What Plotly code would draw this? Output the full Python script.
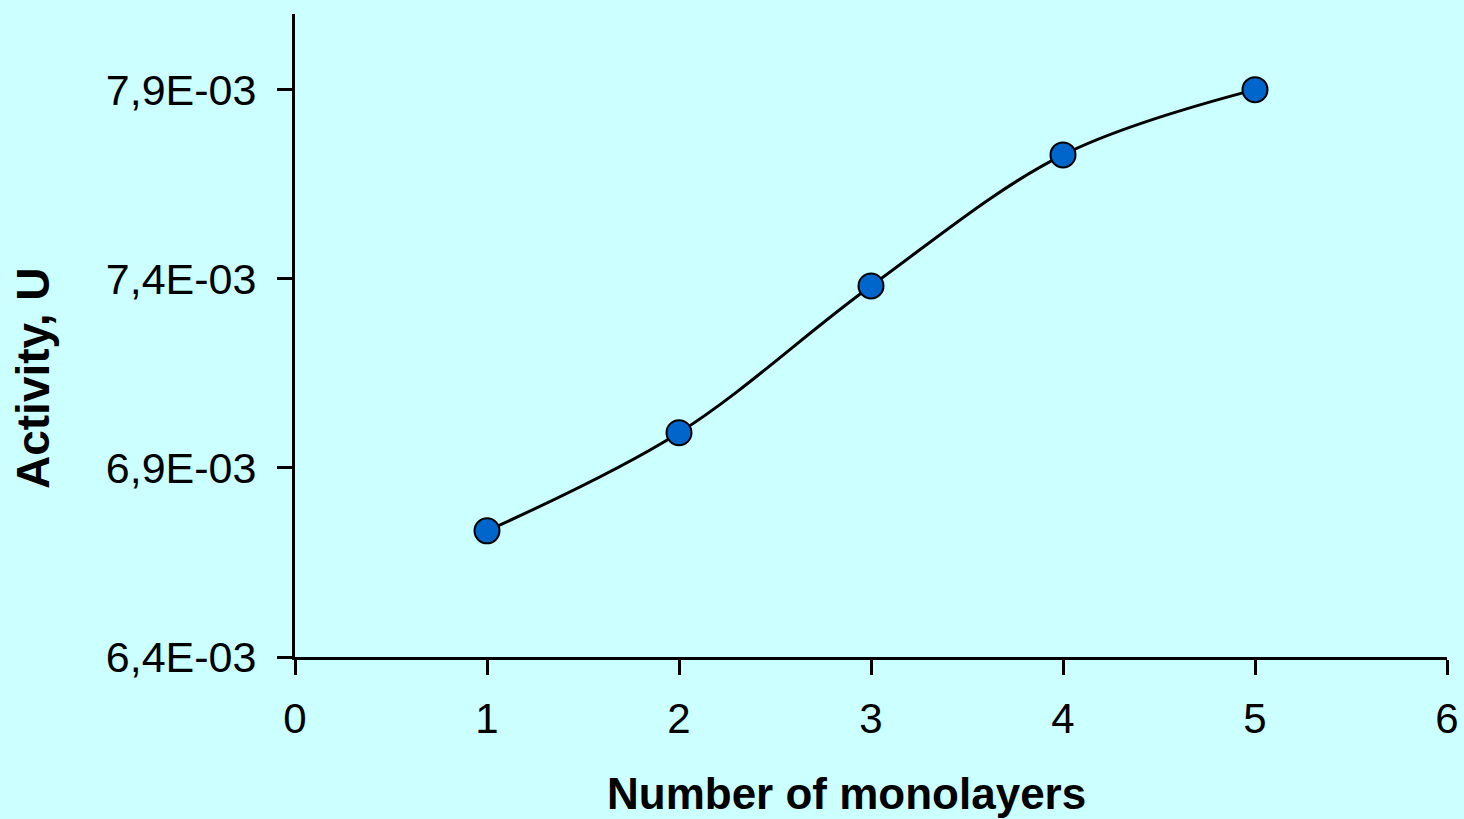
import plotly.graph_objects as go

monolayers = [1, 2, 3, 4, 5]
activity = [6.7335e-3, 6.993e-3, 7.381e-3, 7.7275e-3, 7.9e-3]
y_tick_vals = [6.4e-3, 6.9e-3, 7.4e-3, 7.9e-3]
y_tick_text = ["6,4E-03", "6,9E-03", "7,4E-03", "7,9E-03"]
x_tick_vals = [0, 1, 2, 3, 4, 5, 6]

W, H = 1464, 819
L, R, T, B = 295, 17, 14, 162

fig = go.Figure()
fig.add_trace(go.Scatter(
    x=monolayers, y=activity, mode="lines+markers",
    line=dict(color="black", width=3, shape="spline", smoothing=1.0),
    marker=dict(size=25, color="#0066CC", line=dict(color="black", width=2)),
    showlegend=False,
))

font = "Liberation Sans, Arial, sans-serif"
fig.update_layout(
    width=W, height=H,
    margin=dict(l=L, r=R, t=T, b=B, autoexpand=False),
    paper_bgcolor="#CCFFFF", plot_bgcolor="#CCFFFF",
    font=dict(family=font, color="black", size=42),
    xaxis=dict(range=[0, 6], tickvals=x_tick_vals, ticks="outside", ticklen=15, tickwidth=3,
               tickcolor="black", showline=True, linecolor="black", linewidth=3,
               showgrid=False, zeroline=False, tickfont=dict(size=42), ticklabelstandoff=8,
               automargin=False),
    yaxis=dict(range=[6.4e-3, 8.1e-3], tickvals=y_tick_vals, ticktext=y_tick_text,
               ticks="outside", ticklen=15, tickwidth=3, tickcolor="black",
               showline=True, linecolor="black", linewidth=3, showgrid=False,
               zeroline=False, tickfont=dict(size=43), ticklabelstandoff=12,
               automargin=False),
    annotations=[
        dict(text="<b>Number of monolayers</b>", x=(846 - L) / (W - L - R), y=-(793 - (H - B)) / (H - T - B),
             xref="paper", yref="paper", showarrow=False, font=dict(size=44),
             xanchor="center", yanchor="middle"),
        dict(text="<b>Activity, U</b>", x=-(L - 33) / (W - L - R), y=((H - B) - 378) / (H - T - B),
             xref="paper", yref="paper", showarrow=False, textangle=-90, font=dict(size=46),
             xanchor="center", yanchor="middle"),
    ],
)

fig.write_html("out.html", config={"displayModeBar": False},
               post_script="document.body.style.margin='0';document.body.style.overflow='hidden';")
